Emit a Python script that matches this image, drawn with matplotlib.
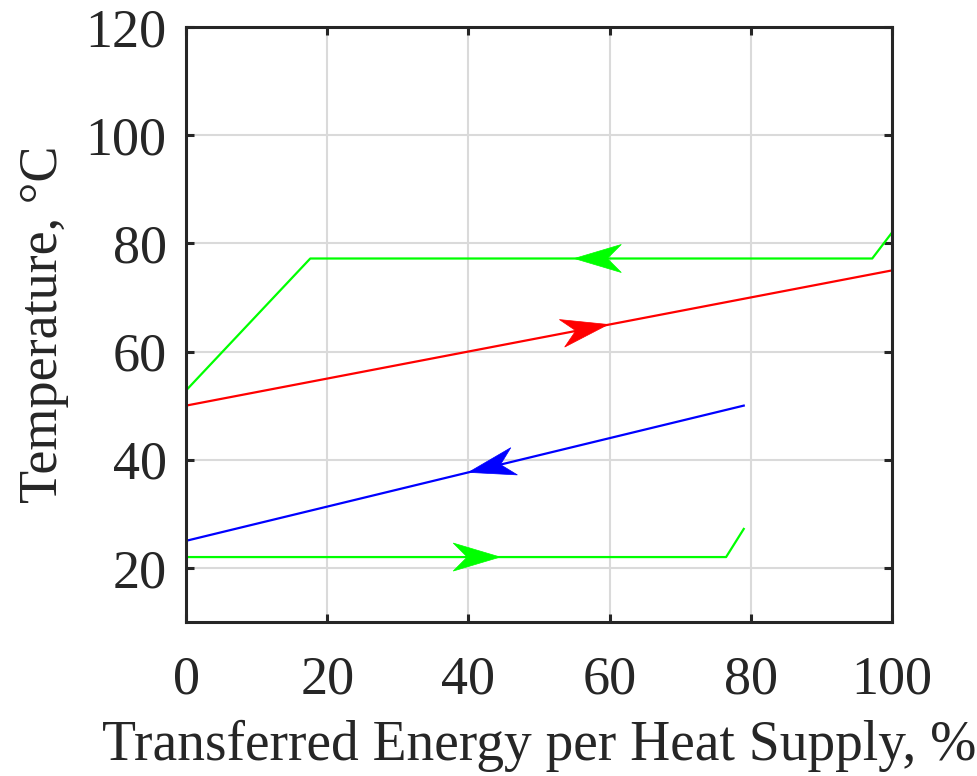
import numpy as np
import matplotlib.pyplot as plt
from matplotlib.patches import Polygon
from matplotlib.transforms import Affine2D, ScaledTranslation

plt.rcParams['font.family'] = ['Liberation Serif', 'DejaVu Serif']

# hot and cold stream profiles (energy %, temperature degC)
hot_x = [0, 17.6, 97.2, 100]
hot_y = [52.8, 77.2, 77.2, 82.0]
red_x = [0, 100]
red_y = [50, 75]
blue_x = [0, 79]
blue_y = [25, 50]
cold_x = [0, 76.5, 79]
cold_y = [22, 22, 27.2]

# arrow tips: (x, y, direction sign along the line)
hot_arrow = (55.0, 77.2, -1)
red_arrow = (59.8, 65.0, 1)
blue_arrow = (40.0, 25 + 40 * 25 / 79, -1)
cold_arrow = (44.5, 22, 1)

fig = plt.figure(figsize=(9.77, 7.76), dpi=100)
ax = fig.add_axes([0.1904, 0.1985, 0.7226, 0.7667])

ax.plot(hot_x, hot_y, color='#00ff00', lw=1.6)
ax.plot(red_x, red_y, color='#ff0000', lw=1.6)
ax.plot(blue_x, blue_y, color='#0000ff', lw=1.6)
ax.plot(cold_x, cold_y, color='#00ff00', lw=1.6)

ax.set_xlim(0, 100)
ax.set_ylim(10, 120)
ax.set_xticks([0, 20, 40, 60, 80, 100])
ax.set_yticks([20, 40, 60, 80, 100, 120])
ax.grid(True, color='#dadada', lw=1.5)
ax.set_axisbelow(True)
for s in ax.spines.values():
    s.set_color('#262626')
    s.set_linewidth(2.2)
ax.tick_params(direction='in', length=6, width=2.2, color='#262626',
               labelsize=39, labelcolor='#262626', top=True, right=True)
ax.tick_params(axis='x', pad=24)
ax.tick_params(axis='y', pad=14)
ax.set_xlabel('Transferred Energy per Heat Supply, %', fontsize=40, color='#262626', labelpad=10)
ax.set_ylabel('Temperature, \u00b0C', fontsize=39, color='#262626', labelpad=12)

fig.canvas.draw()

# notched arrowhead, in pixels, tip at origin pointing +x
head = np.array([[0, 0], [-47, 14], [-33, 0], [-47, -14]])


def add_head(x, y, sgn, xs, ys, color):
    p0 = ax.transData.transform((xs[0], ys[0]))
    p1 = ax.transData.transform((xs[1], ys[1]))
    ang = np.degrees(np.arctan2(p1[1] - p0[1], p1[0] - p0[0]))
    if sgn < 0:
        ang += 180
    tr = Affine2D().rotate_deg(ang) + ScaledTranslation(x, y, ax.transData)
    ax.add_patch(Polygon(head, closed=True, facecolor=color, edgecolor=color,
                         lw=0.5, transform=tr, zorder=3))


add_head(*hot_arrow, [17.6, 97.2], [77.2, 77.2], '#00ff00')
add_head(*red_arrow, red_x, red_y, '#ff0000')
add_head(*blue_arrow, blue_x, blue_y, '#0000ff')
add_head(*cold_arrow, [0, 76.5], [22, 22], '#00ff00')

fig.savefig('out.png', dpi=100)
